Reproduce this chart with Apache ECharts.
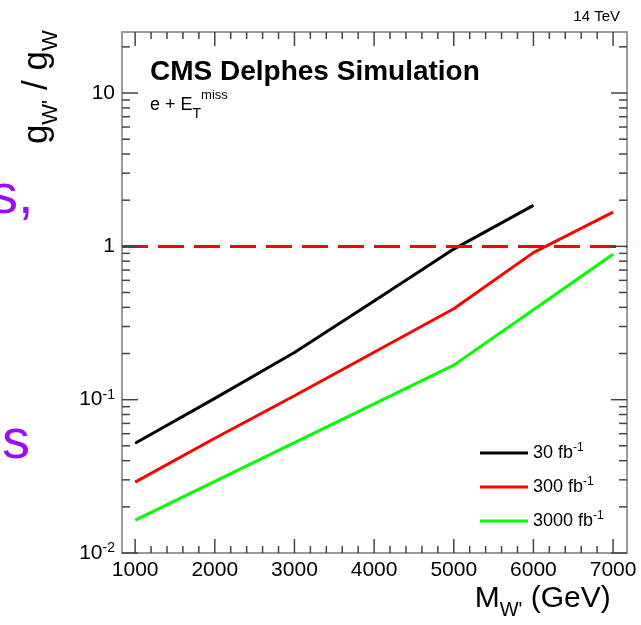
<!DOCTYPE html>
<html><head><meta charset="utf-8">
<script src="https://cdn.jsdelivr.net/npm/echarts@6/dist/echarts.min.js"></script>
<style>html,body{margin:0;padding:0;background:#fff}#c{width:641px;height:625px}</style>
</head><body><div id="c"></div>
<script>
// ---- data ----
const massPoints = [1000, 2000, 3000, 4000, 5000, 6000, 7000];
const limit30 = [0.052, 0.102, 0.203, 0.44, 0.96, 1.85, null];
const limit300 = [0.029, 0.056, 0.106, 0.204, 0.392, 0.91, 1.67];
const limit3000 = [0.0164, 0.0293, 0.0524, 0.094, 0.168, 0.386, 0.887];
const lumiLabels = ['30', '300', '3000'];
const referenceCoupling = 1;
const xMajorTicks = [1000, 2000, 3000, 4000, 5000, 6000, 7000];
const xMinorTicks = [1200, 1400, 1600, 1800, 2200, 2400, 2600, 2800, 3200, 3400, 3600, 3800,
  4200, 4400, 4600, 4800, 5200, 5400, 5600, 5800, 6200, 6400, 6600, 6800];
const yMajorTicks = [0.01, 0.1, 1, 10];
const yTickLabels = ['10^-2', '10^-1', '1', '10'];
const yMinorTicks = [0.02, 0.03, 0.04, 0.05, 0.06, 0.07, 0.08, 0.09,
  0.2, 0.3, 0.4, 0.5, 0.6, 0.7, 0.8, 0.9, 2, 3, 4, 5, 6, 7, 8, 9, 20];

const X_MIN = 835, X_MAX = 7175, Y_MIN = 0.01, Y_MAX = 25;
const FONT = '"Liberation Sans", Arial, Helvetica, sans-serif';
const FRAME = '#9a9a9a', TICK = '#444444';

function toRich(lbl) {
  const parts = lbl.split('^');
  return '{b|' + parts[0] + '}' + (parts[1] ? '{sup|' + parts[1] + '}' : '');
}
function xAxis(pos, withLabels) {
  return {
    type: 'value', min: X_MIN, max: X_MAX, position: pos,
    axisLine: {show: true, onZero: false, lineStyle: {color: FRAME, width: 2}},
    axisTick: {show: false},
    axisLabel: withLabels ? {show: true, customValues: xMajorTicks, margin: 7, color: '#000',
      fontSize: 21, fontFamily: FONT, formatter: v => String(v)} : {show: false},
    splitLine: {show: false}
  };
}
function yAxis(pos, withLabels) {
  return {
    type: 'log', logBase: 10, min: Y_MIN, max: Y_MAX, position: pos,
    axisLine: {show: true, onZero: false, lineStyle: {color: FRAME, width: 2}},
    axisTick: {show: false},
    axisLabel: withLabels ? {show: true, customValues: yMajorTicks, margin: 7, color: '#000',
      fontSize: 21, fontFamily: FONT,
      formatter: v => {
        const i = yMajorTicks.findIndex(t => Math.abs(Math.log10(t) - Math.log10(v)) < 1e-6);
        return i >= 0 ? toRich(yTickLabels[i]) : '';
      },
      rich: {b: {fontSize: 21, lineHeight: 24, fontFamily: FONT, color: '#000'},
             sup: {fontSize: 14, lineHeight: 14, verticalAlign: 'top', fontFamily: FONT, color: '#000'}}
    } : {show: false},
    splitLine: {show: false}
  };
}
function toPairs(arr) {
  return massPoints.map((m, i) => [m, arr[i]]).filter(p => p[1] != null);
}
const colors = ['#000000', '#ff0000', '#00ff00'];
const seriesData = [limit30, limit300, limit3000];
const names = lumiLabels.map(l => l + ' fb^-1');
const series = seriesData.map((d, i) => ({
  name: names[i], type: 'line', data: toPairs(d), xAxisIndex: 0, yAxisIndex: 0,
  symbol: 'none', connectNulls: true, lineStyle: {color: colors[i], width: 3}, itemStyle: {color: colors[i]},
  z: 3
}));
series[1].markLine = {
  silent: true, symbol: ['none', 'none'], animation: false, label: {show: false},
  lineStyle: {color: '#ff0000', width: 3, type: [26, 10]},
  data: [{yAxis: referenceCoupling}]
};
const textGraphics = [
  {type: 'text', x: 150, y: 72, style: {text: 'CMS Delphes Simulation', fill: '#000',
    font: 'bold 28px ' + FONT, verticalAlign: 'middle', align: 'left'}},
  {type: 'text', x: 150, y: 89, style: {text: '{b|e + E}{s|T}{p|miss}{h| }', fill: '#000',
    verticalAlign: 'top', align: 'left',
    rich: {b: {fontSize: 18, lineHeight: 26, verticalAlign: 'middle', fontFamily: FONT, fill: '#000'},
           s: {fontSize: 14, lineHeight: 14, verticalAlign: 'bottom', fontFamily: FONT, fill: '#000'},
           p: {fontSize: 13, lineHeight: 13, verticalAlign: 'top', fontFamily: FONT, fill: '#000'},
           h: {fontSize: 1, lineHeight: 32}}}},
  {type: 'text', x: 620, y: 17, style: {text: '14 TeV', fill: '#000', font: '15px ' + FONT,
    align: 'right', verticalAlign: 'middle'}},
  {type: 'text', x: 611, y: 584, style: {text: '{b|M}{s|W\'}{b| (GeV)}{h| }', fill: '#000',
    align: 'right', verticalAlign: 'top',
    rich: {b: {fontSize: 30, lineHeight: 30, verticalAlign: 'top', fontFamily: FONT, fill: '#000'},
           s: {fontSize: 20, lineHeight: 20, verticalAlign: 'bottom', fontFamily: FONT, fill: '#000'},
           h: {fontSize: 1, lineHeight: 36}}}},
  {type: 'text', x: 20, y: 30, rotation: Math.PI / 2, style: {text: '{b|g}{s|W\'}{b| / g}{s|W}{h| }', fill: '#000',
    align: 'right', verticalAlign: 'top',
    rich: {b: {fontSize: 35, lineHeight: 35, verticalAlign: 'top', fontFamily: FONT, fill: '#000'},
           s: {fontSize: 22, lineHeight: 22, verticalAlign: 'bottom', fontFamily: FONT, fill: '#000'},
           h: {fontSize: 1, lineHeight: 42}}}},
  {type: 'text', x: -10, y: 198, style: {text: 's,', fill: '#9b0cff', font: '56px ' + FONT,
    align: 'left', verticalAlign: 'middle'}},
  {type: 'text', x: 2, y: 443, style: {text: 's', fill: '#9b0cff', font: '56px ' + FONT,
    align: 'left', verticalAlign: 'middle'}}
];

const chart = echarts.init(document.getElementById('c'), null, {renderer: 'canvas'});
chart.setOption({
  animation: false,
  backgroundColor: '#fff',
  grid: {left: 122, right: 14, top: 32, bottom: 72, containLabel: false, outerBoundsMode: 'none'},
  xAxis: [xAxis('bottom', true), xAxis('top', false)],
  yAxis: [yAxis('left', true), yAxis('right', false)],
  legend: {
    orient: 'vertical', left: 480, top: 442, padding: 0, itemWidth: 48, itemHeight: 3, itemGap: 14,
    icon: 'rect', data: names, formatter: n => toRich(n),
    textStyle: {color: '#000', fontFamily: FONT, fontSize: 18,
      rich: {b: {fontSize: 18, lineHeight: 22, fontFamily: FONT, color: '#000'},
             sup: {fontSize: 12, lineHeight: 12, verticalAlign: 'top', fontFamily: FONT, color: '#000'}}}
  },
  graphic: textGraphics,
  series: series
});

// inward tick marks on all four sides, placed through the chart's own scales
const tickGraphics = [];
const finder = {gridIndex: 0};
const TW = 1.5;
const vTick = (x, y, h) => ({type: 'rect', silent: true, z: 50,
  shape: {x: x - TW / 2, y: Math.min(y, y + h), width: TW, height: Math.abs(h)}, style: {fill: TICK}});
const hTick = (x, y, w) => ({type: 'rect', silent: true, z: 50,
  shape: {x: Math.min(x, x + w), y: y - TW / 2, width: Math.abs(w), height: TW}, style: {fill: TICK}});
function addXTick(v, len) {
  const b = chart.convertToPixel(finder, [v, Y_MIN]);
  const t = chart.convertToPixel(finder, [v, Y_MAX]);
  tickGraphics.push(vTick(b[0], b[1], -len), vTick(t[0], t[1], len));
}
function addYTick(v, len) {
  const l = chart.convertToPixel(finder, [X_MIN, v]);
  const r = chart.convertToPixel(finder, [X_MAX, v]);
  tickGraphics.push(hTick(l[0], l[1], len), hTick(r[0], r[1], -len));
}
xMajorTicks.forEach(v => addXTick(v, 14));
xMinorTicks.forEach(v => addXTick(v, 7));
yMajorTicks.forEach(v => addYTick(v, 16));
yMinorTicks.forEach(v => addYTick(v, 8));
chart.setOption({graphic: textGraphics.concat(tickGraphics)});
</script></body></html>
